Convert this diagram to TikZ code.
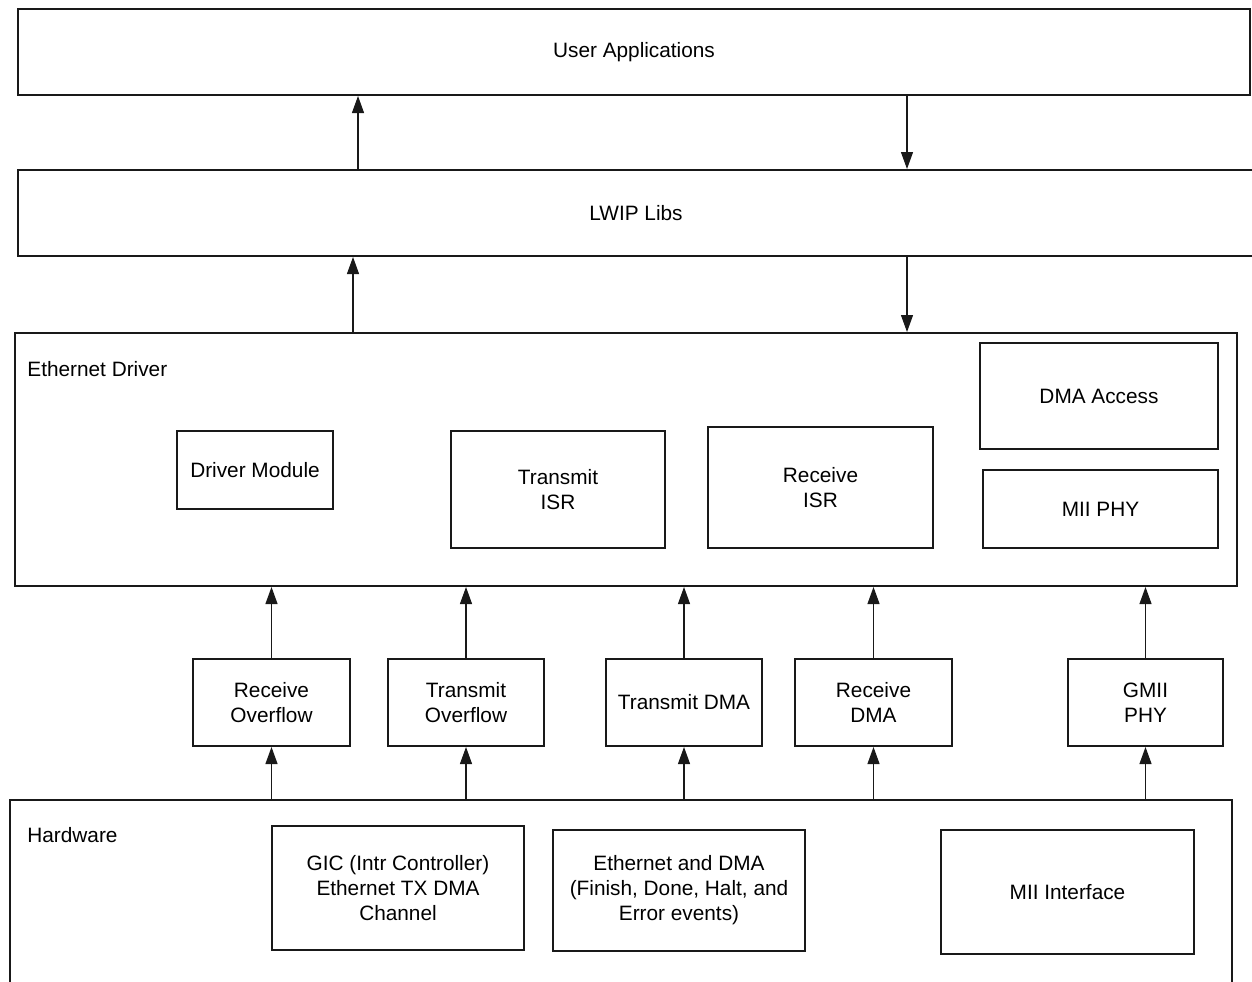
\documentclass[tikz,border=0pt]{standalone}
\usepackage{fontspec}
\setmainfont{Liberation Sans}
\usetikzlibrary{arrows.meta}
\begin{document}
\begin{tikzpicture}[x=0.5pt,y=-0.5pt,
  box/.style={draw=black!90, line width=1pt, inner sep=0pt, align=center,
    font=\fontsize{10.4}{12.5}\selectfont},
  label/.style={inner sep=0pt, anchor=west, font=\fontsize{10.4}{12.5}\selectfont},
  arr/.style={draw=black!90, line width=0.55pt, -{Triangle[length=8.5pt,width=6pt]}}]
\useasboundingbox[fill=white] (0,0) rectangle (1252,981);

% software layers
\node[box, minimum width=616pt, minimum height=43pt] (user) at (634,52) {User Applications};
\node[box, minimum width=618pt, minimum height=43pt] (lwip) at (636,213) {LWIP Libs};

% Ethernet driver and its modules
\node[box, minimum width=611pt, minimum height=126.5pt] (eth) at (626,459.5) {};
\node[label] (ethlbl) at (27,369) {Ethernet Driver};
\node[box, minimum width=78pt, minimum height=39pt] (drv) at (255,470) {Driver Module};
\node[box, minimum width=107pt, minimum height=58.5pt] (txisr) at (558,489.5) {Transmit\\ISR};
\node[box, minimum width=112.5pt, minimum height=60.5pt] (rxisr) at (820.5,487.5) {Receive\\ISR};
\node[box, minimum width=119pt, minimum height=53pt] (dmaacc) at (1099,396) {DMA Access};
\node[box, minimum width=117.5pt, minimum height=39pt] (miiphy) at (1100.5,509) {MII PHY};

% interrupt / event sources
\node[box, minimum width=78.5pt, minimum height=43.5pt] (ro) at (271.5,702.5) {Receive\\Overflow};
\node[box, minimum width=78pt, minimum height=43.5pt] (to) at (466,702.5) {Transmit\\Overflow};
\node[box, minimum width=78pt, minimum height=43.5pt] (tdma) at (684,702.5) {Transmit DMA};
\node[box, minimum width=78.5pt, minimum height=43.5pt] (rdma) at (873.5,702.5) {Receive\\DMA};
\node[box, minimum width=77.5pt, minimum height=43.5pt] (gmii) at (1145.5,702.5) {GMII\\PHY};

% hardware layer (open at the bottom)
\node[inner sep=0pt, minimum width=611pt, minimum height=100pt] (hw) at (621,900) {};
\draw[draw=black!90, line width=1pt] (hw.south west) -- (hw.north west) -- (hw.north east) -- (hw.south east);
\node[label] (hwlbl) at (27,835) {Hardware};
\node[box, minimum width=126pt, minimum height=62pt] (gic) at (398,888) {GIC (Intr Controller)\\Ethernet TX DMA\\Channel};
\node[box, minimum width=126pt, minimum height=60.5pt] (edma) at (679,890.5) {Ethernet and DMA\\(Finish, Done, Halt, and\\Error events)};
\node[box, minimum width=126.5pt, minimum height=62pt] (mii) at (1067.5,892) {MII Interface};

% connectors between the layers
\coordinate (up1) at (358,0);
\coordinate (dn1) at (907,0);
\coordinate (up2) at (353,0);
\coordinate (dn2) at (907,0);
\draw[arr] (up1 |- lwip.north) -- (up1 |- user.south);
\draw[arr] (dn1 |- user.south) -- (dn1 |- lwip.north);
\draw[arr] (up2 |- eth.north) -- (up2 |- lwip.south);
\draw[arr] (dn2 |- lwip.south) -- (dn2 |- eth.north);

\foreach \n in {ro,to,tdma,rdma,gmii}{
  \draw[arr] (\n.north) -- (\n.north |- eth.south);
  \draw[arr] (\n.south |- hw.north) -- (\n.south);
}
\end{tikzpicture}
\end{document}
